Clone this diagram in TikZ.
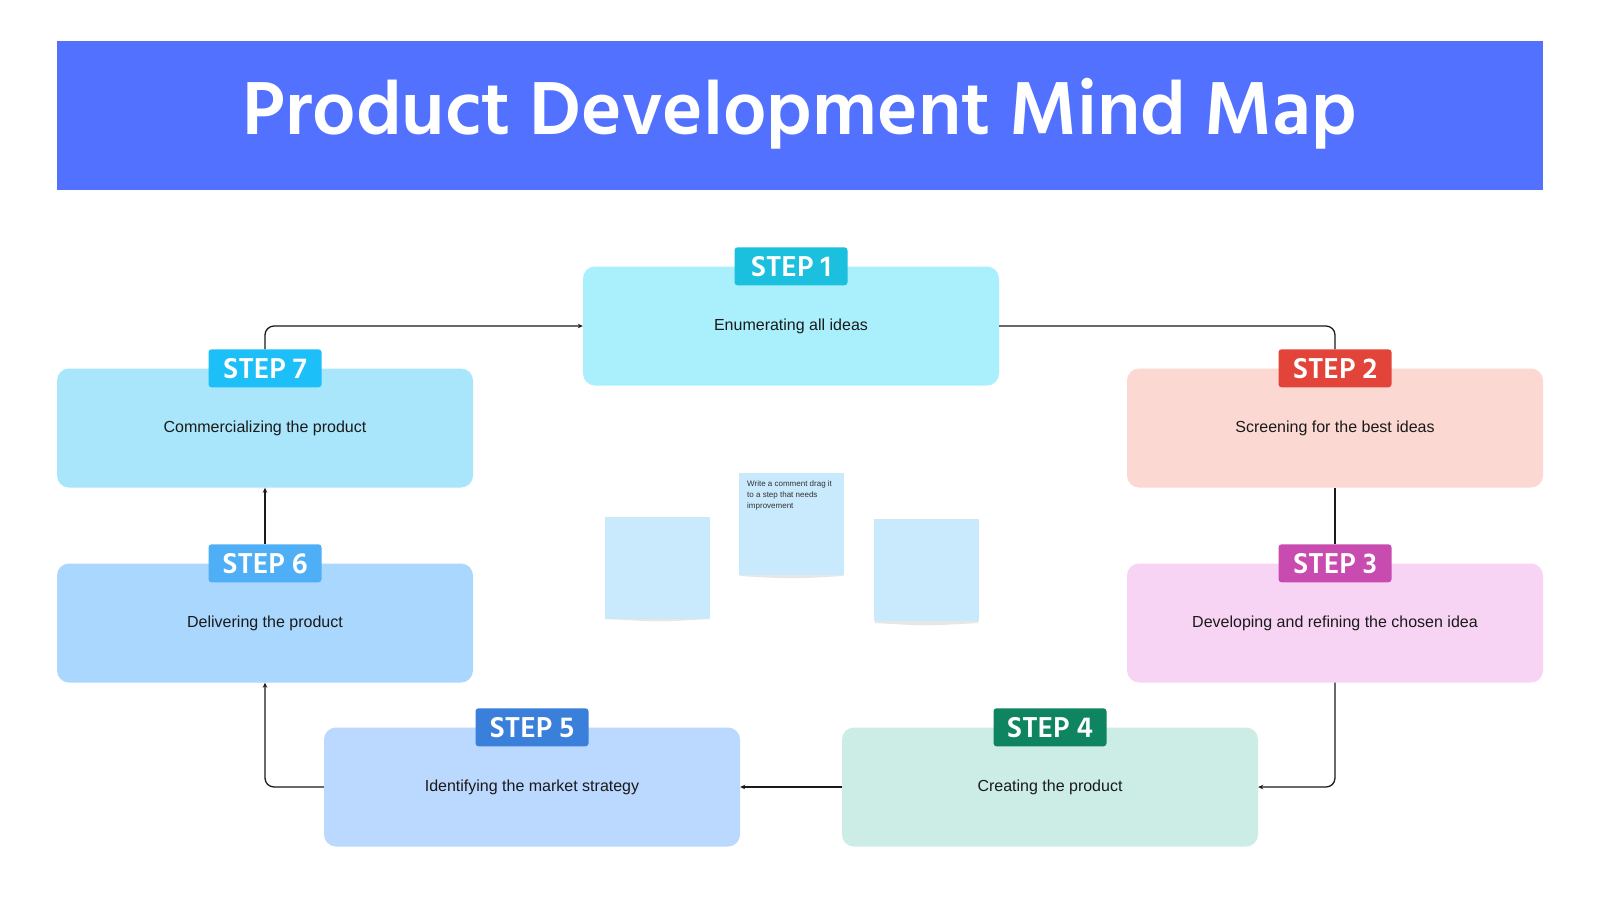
\documentclass[tikz,border=0pt]{standalone}
\usepackage{fontspec}
\setmainfont{Liberation Sans}
\newfontfamily\hindfont{Hind Siliguri}
\usetikzlibrary{arrows.meta}
\definecolor{titleblue}{HTML}{5271FF}
\definecolor{tagA}{HTML}{1BC0DE}\definecolor{boxA}{HTML}{A9F0FC}
\definecolor{tagB}{HTML}{E2443A}\definecolor{boxB}{HTML}{FCD8D3}
\definecolor{tagC}{HTML}{C84BB0}\definecolor{boxC}{HTML}{F8D4F4}
\definecolor{tagD}{HTML}{0E8460}\definecolor{boxD}{HTML}{CCEDE5}
\definecolor{tagE}{HTML}{3A80DB}\definecolor{boxE}{HTML}{BBD8FE}
\definecolor{tagF}{HTML}{4FAFF6}\definecolor{boxF}{HTML}{A9D7FD}
\definecolor{tagG}{HTML}{1CBFF8}\definecolor{boxG}{HTML}{A9E6FC}
\definecolor{stickyc}{HTML}{C9E9FC}
\definecolor{shadowc}{HTML}{E6E6E6}
\definecolor{inkc}{HTML}{1A1A1A}
\begin{document}
\begin{tikzpicture}[x=1pt,y=-1pt,
  stepbox/.style={rectangle, rounded corners=12pt, minimum width=416pt, minimum height=119pt, inner sep=0pt,
    font=\fontsize{16}{19}\selectfont, text=inkc},
  steptag/.style={rectangle, rounded corners=3pt, minimum width=113pt, minimum height=38pt, inner sep=0pt,
    text=white, font=\hindfont\bfseries\fontsize{29.5}{30}\selectfont},
  sticky/.style={rectangle, fill=stickyc, minimum width=105pt, minimum height=102pt, inner sep=0pt},
  conn/.style={draw=inkc, line width=1.3pt, rounded corners=9pt},
  arr/.style={-{Stealth[length=5pt,width=4.5pt]}}
]
\fill[white] (0,0) rectangle (1600,900);
\useasboundingbox (0,0) rectangle (1600,900);

% title
\fill[titleblue] (57,41) rectangle (1543,190);
\node[text=white, font=\hindfont\bfseries\fontsize{77}{80}\selectfont] (title) at (800,114) {Product Development Mind Map};

% boxes
\node[stepbox, fill=boxA] (s1) at (791,326) {Enumerating all ideas};
\node[stepbox, fill=boxB] (s2) at (1335,428) {Screening for the best ideas};
\node[stepbox, fill=boxC] (s3) at (1335,623) {Developing and refining the chosen idea};
\node[stepbox, fill=boxD] (s4) at (1050,787) {Creating the product};
\node[stepbox, fill=boxE] (s5) at (532,787) {Identifying the market strategy};
\node[stepbox, fill=boxF] (s6) at (265,623) {Delivering the product};
\node[stepbox, fill=boxG] (s7) at (265,428) {Commercializing the product};

% tags
\node[steptag, fill=tagA] (t1) at (s1.north) {STEP 1};
\node[steptag, fill=tagB] (t2) at (s2.north) {STEP 2};
\node[steptag, fill=tagC] (t3) at (s3.north) {STEP 3};
\node[steptag, fill=tagD] (t4) at (s4.north) {STEP 4};
\node[steptag, fill=tagE] (t5) at (s5.north) {STEP 5};
\node[steptag, fill=tagF] (t6) at (s6.north) {STEP 6};
\node[steptag, fill=tagG] (t7) at (s7.north) {STEP 7};

% connectors
\draw[conn] (s1.east) -| (t2.north);
\draw[conn] (s2.south) -- (t3.north);
\draw[conn, arr] (s3.south) |- (s4.east);
\draw[conn, arr] (s4.west) -- (s5.east);
\draw[conn, arr] (s5.west) -| (s6.south);
\draw[conn, arr] (t6.north) -- (s7.south);
\draw[conn, arr] (t7.north) |- (s1.west);

% sticky notes
\fill[shadowc] (606,614) -- (708,614) -- (708,619) .. controls (660,622) .. (606,619) -- cycle;
\node[sticky, anchor=north west] (n1) at (605,517) {};
\fill[shadowc] (740,571) -- (843,571) -- (843,576) .. controls (792,579) .. (740,576) -- cycle;
\node[sticky, anchor=north west] (n2) at (739,473) {};
\fill[shadowc] (875,618) -- (978,618) -- (978,623) .. controls (926,626) .. (875,623) -- cycle;
\node[sticky, anchor=north west] (n3) at (874,519) {};
\node[anchor=north west, inner sep=0pt, align=left, text=black!80, font=\fontsize{8}{11}\selectfont] (ntext) at (747,480)
  {Write a comment drag it\\to a step that needs\\improvement};
\end{tikzpicture}
\end{document}
